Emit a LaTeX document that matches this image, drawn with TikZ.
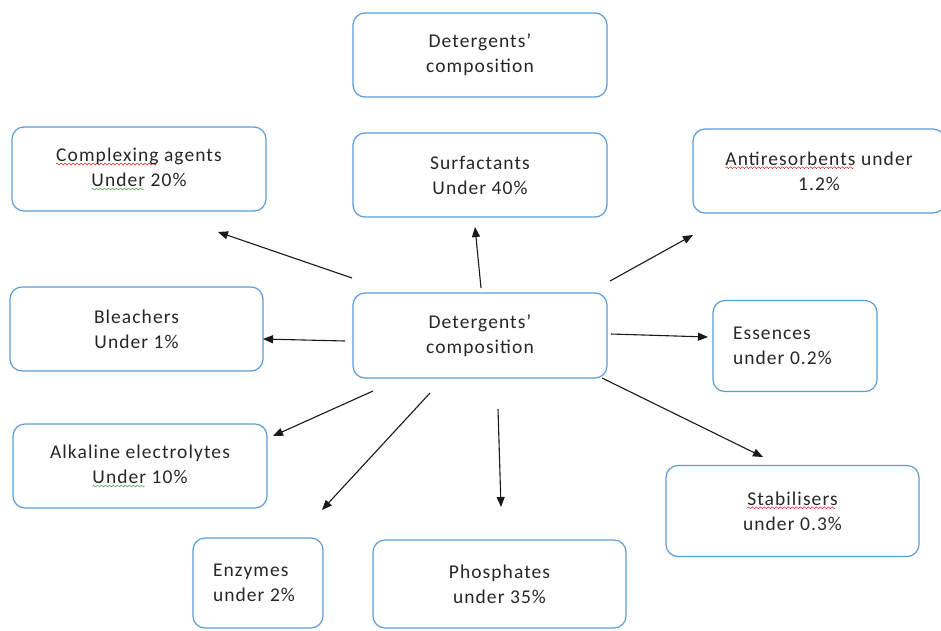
\documentclass[tikz,border=0pt]{standalone}
\usepackage{fontspec}
\setmainfont{Carlito}[LetterSpace=5.5]
\usepackage{tikz}
\usetikzlibrary{arrows.meta, positioning, shapes}

\definecolor{boxblue}{RGB}{91,155,213}
\definecolor{wavered}{RGB}{225,30,30}
\definecolor{wavegreen}{RGB}{60,160,60}
% wavy spell-check underline
\newsavebox{\redwave}
\newsavebox{\greenwave}
\newcommand{\makewave}[2]{\sbox{#1}{\begin{pgfpicture}
  \pgfpathrectanglecorners{\pgfpoint{0pt}{-1pt}}{\pgfpoint{4pt}{1pt}}\pgfusepath{use as bounding box}
  \pgfsetlinewidth{0.5pt}\pgfsetstrokecolor{#2}
  \pgfpathmoveto{\pgfpoint{0pt}{0pt}}
  \pgfpathsine{\pgfpoint{1pt}{0.9pt}}\pgfpathcosine{\pgfpoint{1pt}{-0.9pt}}
  \pgfpathsine{\pgfpoint{1pt}{-0.9pt}}\pgfpathcosine{\pgfpoint{1pt}{0.9pt}}
  \pgfusepath{stroke}\end{pgfpicture}}}
\newcommand{\spellwave}[2]{\setbox0\hbox{#2}\rlap{\raisebox{-3.5pt}{\hbox to\wd0{\leaders\copy#1\hfill}}}#2}

\begin{document}
\makewave{\redwave}{wavered}
\makewave{\greenwave}{wavegreen}
\begin{tikzpicture}[
    x=1pt, y=-1pt,
    every node/.style={font=\fontsize{19.5}{25}\selectfont, align=center, text=black!85},
    part/.style={draw=boxblue, line width=1.2pt, rectangle, rounded corners=12pt,
                 minimum width=254pt, minimum height=84pt},
    leftpart/.style={part, align=flush left, inner xsep=20pt},
    arr/.style={-{Triangle[length=10pt, width=8pt]}, line width=1.1pt, black!90}
]
\useasboundingbox (0,0) rectangle (941,630);

\node[part] (title)   at (480,55)    {Detergents'\\composition};
\node[part] (complex) at (139,169)   {\spellwave{\redwave}{Complexing} agents\\\spellwave{\greenwave}{Under} 20\%};
\node[part] (surf)    at (480,175)   {Surfactants\\Under 40\%};
\node[part, minimum width=252pt] (anti) at (819,171) {\spellwave{\redwave}{Antiresorbents} under\\1.2\%};
\node[part, minimum width=253pt] (bleach) at (136.5,329) {Bleachers\\Under 1\%};
\node[part, minimum height=85pt] (comp) at (480,335.5) {Detergents'\\composition};
\node[leftpart, text width=124pt, minimum width=164pt, minimum height=91pt] (ess) at (795,346) {Essences\\under 0.2\%};
\node[part] (alk)     at (140,466)   {Alkaline electrolytes\\\spellwave{\greenwave}{Under} 10\%};
\node[part, minimum width=253pt, minimum height=91pt] (stab) at (792.5,511) {\spellwave{\redwave}{Stabilisers}\\under 0.3\%};
\node[leftpart, text width=90pt, minimum width=130pt, minimum height=90pt] (enz) at (258,583) {Enzymes\\under 2\%};
\node[part, minimum width=253pt, minimum height=88pt] (phos) at (499.5,584) {Phosphates\\under 35\%};

% arrow tails near the central box
\coordinate (t-complex) at (352,278);
\coordinate (t-bleach)  at (345,341);
\coordinate (t-surf)    at (481,288);
\coordinate (t-anti)    at (610,281);
\coordinate (t-ess)     at (611,334);
\coordinate (t-stab)    at (602,378);
\coordinate (t-alk)     at (373,391);
\coordinate (t-enz)     at (430,393);
\coordinate (t-phos)    at (498,409);
% arrow heads
\coordinate (h-complex) at (218,232);
\coordinate (h-bleach)  at (263,339);
\coordinate (h-surf)    at (475,227);
\coordinate (h-anti)    at (693,235);
\coordinate (h-ess)     at (708,337);
\coordinate (h-stab)    at (763,457);
\coordinate (h-alk)     at (273,436);
\coordinate (h-enz)     at (322,510);
\coordinate (h-phos)    at (501,507);

\draw[arr] (t-complex) -- (h-complex);
\draw[arr] (t-bleach)  -- (h-bleach);
\draw[arr] (t-surf)    -- (h-surf);
\draw[arr] (t-anti)    -- (h-anti);
\draw[arr] (t-ess)     -- (h-ess);
\draw[arr] (t-stab)    -- (h-stab);
\draw[arr] (t-alk)     -- (h-alk);
\draw[arr] (t-enz)     -- (h-enz);
\draw[arr] (t-phos)    -- (h-phos);
\end{tikzpicture}
\end{document}
